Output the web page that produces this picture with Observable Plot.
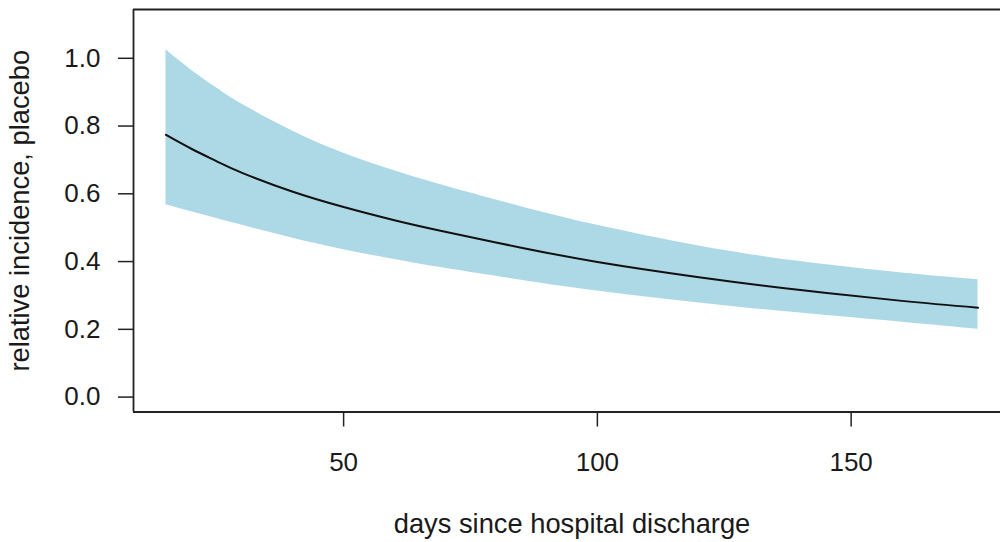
<!DOCTYPE html>
<html>
<head>
<meta charset="utf-8">
<script src="https://cdn.jsdelivr.net/npm/d3@7"></script>
<script src="https://cdn.jsdelivr.net/npm/@observablehq/plot@0.6"></script>
<style>
  html, body { margin: 0; padding: 0; background: #fff; overflow: hidden; }
  #chart svg { display: block; }
</style>
</head>
<body>
<div id="chart"></div>
<script>
// Days since hospital discharge
const days     = [15,    20,    25,    30,    40,    50,    60,    70,    85,    100,   120,   140,   160,   175];
// Estimated relative incidence (placebo)
const estimate = [0.774, 0.733, 0.696, 0.662, 0.606, 0.561, 0.522, 0.488, 0.441, 0.399, 0.354, 0.316, 0.284, 0.264];
// Lower and upper confidence limits
const lower    = [0.568, 0.547, 0.527, 0.507, 0.469, 0.435, 0.406, 0.380, 0.345, 0.313, 0.278, 0.248, 0.221, 0.200];
const upper    = [1.025, 0.965, 0.912, 0.864, 0.785, 0.720, 0.668, 0.623, 0.562, 0.507, 0.446, 0.400, 0.366, 0.346];

const xTicks = [50, 100, 150];
const yTicks = [0, 0.2, 0.4, 0.6, 0.8, 1.0];

const xLabel = "days since hospital discharge";
const yLabel = "relative incidence, placebo";

const data = days.map((d, i) => ({day: d, est: estimate[i], lo: lower[i], hi: upper[i]}));

const font = "'Liberation Sans', Arial, sans-serif";
const fs = 26;
const fsTitle = 27.3;

const chart = Plot.plot({
  width: 1000,
  height: 542,
  marginLeft: 133,
  marginRight: 0,
  marginTop: 9,
  marginBottom: 130.5,
  style: {fontFamily: font, fontSize: fs + "px", color: "#1a1a1a", background: "#fff"},
  x: {domain: [8.6, 181.4], range: [133, 1010]},
  y: {domain: [-0.044, 1.144]},
  marks: [
    Plot.areaY(data, {x: "day", y1: "lo", y2: "hi", fill: "#ADD8E6", curve: "natural"}),
    Plot.line(data, {x: "day", y: "est", stroke: "#111", strokeWidth: 2, curve: "natural"}),
    Plot.ruleY([1.144], {stroke: "#222", strokeWidth: 1.8}),
    Plot.ruleY([-0.044], {stroke: "#222", strokeWidth: 1.8}),
    Plot.ruleX([8.6], {stroke: "#222", strokeWidth: 1.8}),
    Plot.axisY(yTicks, {tickFormat: d3.format(".1f"), tickSize: 15, tickPadding: 18, fontSize: fs, strokeWidth: 1.5, stroke: "#222", fill: "#1a1a1a", label: null}),
    Plot.axisX(xTicks, {tickFormat: d => String(d), tickSize: 15, tickPadding: 26, fontSize: fs, strokeWidth: 1.5, stroke: "#222", fill: "#1a1a1a", label: null}),
    Plot.text([yLabel], {frameAnchor: "left", dx: -113, rotate: -90, textAnchor: "middle", lineAnchor: "middle", fontSize: fsTitle, fill: "#1a1a1a"}),
    Plot.text([xLabel], {frameAnchor: "bottom", dx: 5, dy: 112, textAnchor: "middle", lineAnchor: "middle", fontSize: fsTitle, fill: "#1a1a1a"})
  ]
});
document.getElementById("chart").appendChild(chart);
</script>
</body>
</html>
